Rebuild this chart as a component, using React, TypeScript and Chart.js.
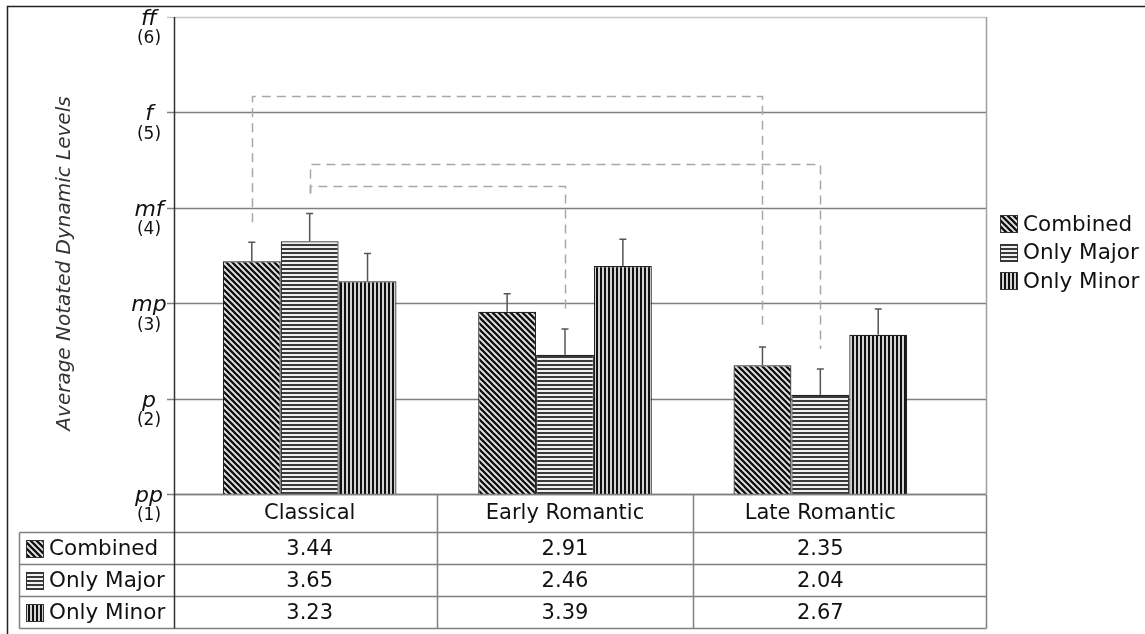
import { useEffect, useRef } from 'react';
import { Chart, registerables } from 'chart.js';

Chart.register(...registerables);

const categories = ['Classical', 'Early Romantic', 'Late Romantic'];
const seriesNames = ['Combined', 'Only Major', 'Only Minor'];
const combinedValues = [3.44, 2.91, 2.35];
const onlyMajorValues = [3.65, 2.46, 2.04];
const onlyMinorValues = [3.23, 3.39, 2.67];
const combinedErrors = [0.2, 0.19, 0.19];
const onlyMajorErrors = [0.29, 0.27, 0.27];
const onlyMinorErrors = [0.29, 0.28, 0.27];
const yTickValues = [1, 2, 3, 4, 5, 6];
const yTickDynamics = ['pp', 'p', 'mp', 'mf', 'f', 'ff'];
const yTickNumbers = ['(1)', '(2)', '(3)', '(4)', '(5)', '(6)'];
const yAxisTitle = 'Average Notated Dynamic Levels';
// significance brackets: from (category, series) to (category, series) at a level in axis units
const bracketFromCategory = [0, 0, 0];
const bracketFromSeries = [0, 1, 1];
const bracketToCategory = [2, 2, 1];
const bracketToSeries = [0, 1, 1];
const bracketLevels = [5.17, 4.46, 4.23];

const seriesValues = [combinedValues, onlyMajorValues, onlyMinorValues];
const seriesErrors = [combinedErrors, onlyMajorErrors, onlyMinorErrors];
const patternKinds = ['diagonal', 'horizontal', 'vertical'];

const FONT = '"DejaVu Sans", Verdana, sans-serif';

function makePattern(kind: string): CanvasPattern | string {
  const c = document.createElement('canvas');
  const ctx = c.getContext('2d');
  if (!ctx) return '#666';
  if (kind === 'diagonal') {
    const s = 6;
    c.width = s;
    c.height = s;
    ctx.fillStyle = '#e8e8e8';
    ctx.fillRect(0, 0, s, s);
    ctx.strokeStyle = '#111';
    ctx.lineWidth = 2.3;
    ctx.beginPath();
    ctx.moveTo(-1, -1);
    ctx.lineTo(s + 1, s + 1);
    ctx.moveTo(-1, s - 1);
    ctx.lineTo(1, s + 1);
    ctx.moveTo(s - 1, -1);
    ctx.lineTo(s + 1, 1);
    ctx.stroke();
  } else if (kind === 'horizontal') {
    c.width = 4;
    c.height = 4;
    ctx.fillStyle = '#f0f0f0';
    ctx.fillRect(0, 0, 4, 4);
    ctx.fillStyle = '#3a3a3a';
    ctx.fillRect(0, 0, 4, 2);
  } else {
    c.width = 4;
    c.height = 4;
    ctx.fillStyle = '#d4d4d4';
    ctx.fillRect(0, 0, 4, 4);
    ctx.fillStyle = '#111';
    ctx.fillRect(0, 0, 2, 4);
  }
  const p = ctx.createPattern(c, 'repeat');
  return p || '#666';
}

export default function App() {
  const canvasRef = useRef<HTMLCanvasElement | null>(null);

  useEffect(() => {
    const canvas = canvasRef.current;
    if (!canvas) return;
    const patterns = patternKinds.map((k) => makePattern(k));

    const decorPlugin = {
      id: 'decor',
      beforeDatasetsDraw(chart: any) {
        const { ctx, chartArea, scales } = chart;
        const y = scales.y;
        const plotLeft = chartArea.left - 8;
        const plotRight = chartArea.right + 38;
        ctx.save();
        // horizontal gridlines
        yTickValues.forEach((v) => {
          const py = Math.round(y.getPixelForValue(v)) + 0.5;
          ctx.beginPath();
          ctx.strokeStyle = v === 6 ? '#c8c8c8' : '#808080';
          ctx.lineWidth = 1.5;
          ctx.moveTo(plotLeft - 7, py);
          ctx.lineTo(plotRight, py);
          ctx.stroke();
        });
        // right border of plot
        ctx.beginPath();
        ctx.strokeStyle = '#a0a0a0';
        ctx.lineWidth = 1.5;
        ctx.moveTo(plotRight + 0.5, y.getPixelForValue(6));
        ctx.lineTo(plotRight + 0.5, y.getPixelForValue(1));
        ctx.stroke();
        ctx.restore();
      },
      afterDatasetsDraw(chart: any) {
        const { ctx, chartArea, scales } = chart;
        const x = scales.x;
        const y = scales.y;
        const plotLeft = chartArea.left - 8;
        const plotRight = chartArea.right + 38;
        const tableTop = Math.round(y.getPixelForValue(1)) + 0.5;
        const headerH = 38;
        const rowH = 32;
        const tableBottom = tableTop + headerH + rowH * seriesNames.length;
        const labelLeft = 19.5;
        const catWidth = x.getPixelForValue(1) - x.getPixelForValue(0);
        ctx.save();

        // error bars
        const whiskerTop: number[][] = [];
        seriesValues.forEach((vals, si) => {
          const meta = chart.getDatasetMeta(si);
          whiskerTop[si] = [];
          vals.forEach((v, ci) => {
            const el = meta.data[ci];
            const top = y.getPixelForValue(v + seriesErrors[si][ci]);
            whiskerTop[si][ci] = top;
            ctx.beginPath();
            ctx.strokeStyle = '#555';
            ctx.lineWidth = 1.5;
            ctx.moveTo(el.x, el.y);
            ctx.lineTo(el.x, top);
            ctx.moveTo(el.x - 3.5, top);
            ctx.lineTo(el.x + 3.5, top);
            ctx.stroke();
          });
        });

        // brackets
        ctx.setLineDash([9, 6]);
        ctx.strokeStyle = '#a8a8a8';
        ctx.lineWidth = 1.5;
        bracketLevels.forEach((lvl, bi) => {
          const fs = bracketFromSeries[bi];
          const fc = bracketFromCategory[bi];
          const ts = bracketToSeries[bi];
          const tc = bracketToCategory[bi];
          const lx = Math.round(chart.getDatasetMeta(fs).data[fc].x) + 0.5;
          const rx = Math.round(chart.getDatasetMeta(ts).data[tc].x) + 0.5;
          const ly = Math.round(y.getPixelForValue(lvl)) + 0.5;
          ctx.beginPath();
          ctx.moveTo(lx, whiskerTop[fs][fc] - 20);
          ctx.lineTo(lx, ly);
          ctx.lineTo(rx, ly);
          ctx.lineTo(rx, whiskerTop[ts][tc] - 20);
          ctx.stroke();
        });
        ctx.setLineDash([]);

        // table lines
        ctx.strokeStyle = '#808080';
        ctx.lineWidth = 1.5;
        ctx.beginPath();
        ctx.moveTo(plotLeft, tableTop);
        ctx.lineTo(plotRight, tableTop);
        for (let r = 0; r <= seriesNames.length; r++) {
          const ry = tableTop + headerH + rowH * r;
          ctx.moveTo(labelLeft, ry);
          ctx.lineTo(plotRight + 0.5, ry);
        }
        ctx.moveTo(labelLeft, tableTop + headerH);
        ctx.lineTo(labelLeft, tableBottom);
        ctx.moveTo(plotRight + 0.5, tableTop);
        ctx.lineTo(plotRight + 0.5, tableBottom);
        for (let ci = 1; ci < categories.length; ci++) {
          const bx = Math.round(x.getPixelForValue(ci) - catWidth / 2) + 0.5;
          ctx.moveTo(bx, tableTop);
          ctx.lineTo(bx, tableBottom);
        }
        ctx.stroke();

        // y axis line and ticks
        ctx.strokeStyle = '#333';
        ctx.lineWidth = 1.5;
        ctx.beginPath();
        ctx.moveTo(plotLeft + 0.5, y.getPixelForValue(6));
        ctx.lineTo(plotLeft + 0.5, tableBottom);
        ctx.stroke();

        // y tick labels
        ctx.fillStyle = '#111';
        ctx.textAlign = 'center';
        yTickValues.forEach((v, i) => {
          const py = y.getPixelForValue(v);
          ctx.font = `italic 22px ${FONT}`;
          ctx.textBaseline = 'alphabetic';
          ctx.fillText(yTickDynamics[i], plotLeft - 25, py + 8);
          ctx.font = `17px ${FONT}`;
          ctx.textBaseline = 'middle';
          ctx.fillText(yTickNumbers[i], plotLeft - 25, py + 22);
        });

        // y axis title
        ctx.save();
        ctx.translate(65, (y.getPixelForValue(6) + y.getPixelForValue(1)) / 2 + 8);
        ctx.rotate(-Math.PI / 2);
        ctx.font = `italic 20px ${FONT}`;
        ctx.fillStyle = '#333';
        ctx.textAlign = 'center';
        ctx.textBaseline = 'middle';
        ctx.fillText(yAxisTitle, 0, 0);
        ctx.restore();

        // table header and cells
        ctx.fillStyle = '#111';
        ctx.textAlign = 'center';
        ctx.textBaseline = 'middle';
        ctx.font = `21px ${FONT}`;
        categories.forEach((cat, ci) => {
          ctx.fillText(cat, x.getPixelForValue(ci), tableTop + headerH / 2);
        });
        seriesValues.forEach((vals, si) => {
          const ry = tableTop + headerH + rowH * si + rowH / 2;
          vals.forEach((v, ci) => {
            ctx.fillText(v.toFixed(2), x.getPixelForValue(ci), ry + 1);
          });
        });

        // swatch helper
        const drawSwatch = (sx: number, sy: number, si: number) => {
          ctx.fillStyle = patterns[si] as any;
          ctx.fillRect(sx, sy, 18, 18);
          ctx.strokeStyle = '#333';
          ctx.lineWidth = 1;
          ctx.strokeRect(sx + 0.5, sy + 0.5, 17, 17);
        };

        // table row labels
        ctx.font = `21.5px ${FONT}`;
        ctx.textAlign = 'left';
        seriesNames.forEach((name, si) => {
          const ry = tableTop + headerH + rowH * si + rowH / 2;
          drawSwatch(26, Math.round(ry - 9), si);
          ctx.fillStyle = '#111';
          ctx.fillText(name, 49, ry + 1);
        });

        // legend
        const legendX = chartArea.right + 52;
        const legendY0 = 224;
        seriesNames.forEach((name, si) => {
          const ly = legendY0 + si * 28.5;
          drawSwatch(legendX, Math.round(ly - 9), si);
          ctx.fillStyle = '#111';
          ctx.textAlign = 'left';
          ctx.fillText(name, legendX + 23, ly + 1);
        });

        // outer frame
        ctx.strokeStyle = '#222';
        ctx.lineWidth = 1.5;
        ctx.strokeRect(7.5, 6.5, 1200, 700);

        ctx.restore();
      },
    };

    const chart = new Chart(canvas, {
      type: 'bar',
      data: {
        labels: categories,
        datasets: seriesNames.map((name, si) => ({
          label: name,
          data: seriesValues[si],
          backgroundColor: patterns[si] as any,
          borderColor: '#222',
          borderWidth: 1.2,
          base: 1,
          barPercentage: 1,
          categoryPercentage: 0.68,
        })),
      },
      options: {
        responsive: false,
        animation: false,
        devicePixelRatio: 1,
        layout: { padding: { left: 182, right: 197, top: 17, bottom: 140 } },
        plugins: {
          legend: { display: false },
          tooltip: { enabled: false },
          title: { display: false },
        },
        scales: {
          x: { display: false, offset: true },
          y: { display: false, min: 1, max: 6 },
        },
      },
      plugins: [decorPlugin],
    });

    return () => {
      chart.destroy();
    };
  }, []);

  return (
    <div style={{ position: 'fixed', left: 0, top: 0, width: 1145, height: 634, background: '#fff' }}>
      <canvas ref={canvasRef} width={1145} height={634} style={{ display: 'block', width: 1145, height: 634 }} />
    </div>
  );
}
